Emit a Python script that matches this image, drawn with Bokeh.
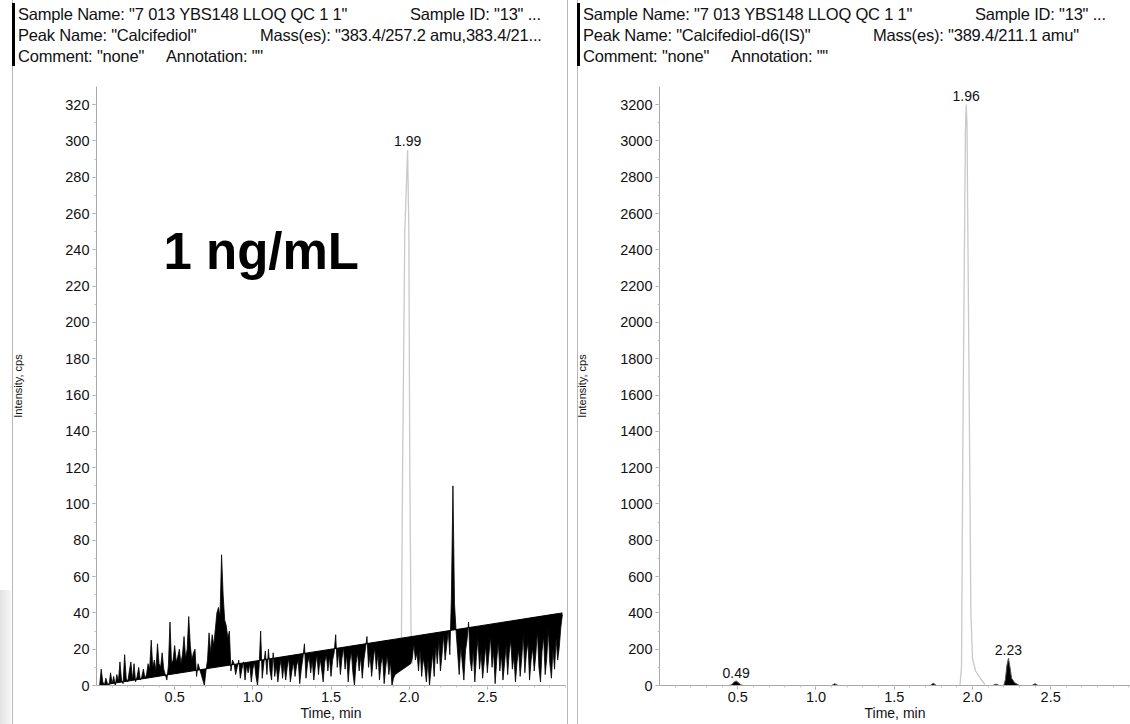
from bokeh.plotting import figure
from bokeh.layouts import row, column
from bokeh.models import FixedTicker, PrintfTickFormatter, Label, Range1d, Div
from bokeh.embed import file_html
from bokeh.resources import INLINE
import numpy as np
import html

FONT = "Liberation Sans"

# ---------------- data: left panel (Calcifediol, 1 ng/mL) ----------------
# sampled every 0.01 min on two stretches (the 1.99 peak is drawn separately)
left_segments = [(0.02, 1.91), (2.01, 2.98)]
left_y = [
    0, 9, 2, 0, 4, 1, 0, 7,                       # 0.02-0.09
    1, 5, 0, 6, 2, 13, 3, 1, 17, 4,               # 0.10
    2, 8, 13, 3, 12, 2, 5, 10, 3, 5,              # 0.20
    9, 4, 6, 12, 9, 25, 10, 14, 8, 23,            # 0.30
    12, 10, 18, 9, 6, 3, 11, 35, 12, 14,          # 0.40
    22, 13, 16, 20, 12, 17, 27, 15, 20, 38,       # 0.50
    22, 14, 18, 20, 5, 12, 9, 6, 3, 0,            # 0.60
    8, 14, 29, 18, 28, 22, 31, 40, 43, 38,        # 0.70
    72, 50, 36, 33, 26, 30, 8, 14, 12, 6,         # 0.80
    10, 14, 4, 9, 13, 3, 11, 7, 12, 2,            # 0.90
    9, 13, 5, 0, 10, 30, 4, 12, 19, 6,            # 1.00
    20, 8, 3, 18, 5, 11, 2, 9, 14, 4,             # 1.10
    12, 3, 10, 15, 2, 8, 13, 5, 11, 14,           # 1.20
    1, 9, 15, 23, 4, 12, 16, 7, 14, 3,            # 1.30
    11, 17, 6, 15, 9, 2, 13, 17, 8, 16,           # 1.40
    5, 14, 18, 28, 10, 19, 6, 15, 21, 9,          # 1.50
    17, 2, 13, 19, 7, 0, 12, 18, 8, 16,           # 1.60
    4, 14, 20, 27, 10, 17, 5, 14, 21, 9,          # 1.70
    18, 3, 12, 16, 1, 10, 17, 6, 13, 0,           # 1.80
    4, 6,                                         # 1.90-1.91
    12, 15, 23, 14, 18, 8, 20, 5, 15,             # 2.01-2.09
    10, 2, 14, 0, 9, 18, 5, 22, 12, 25,           # 2.10
    8, 17, 28, 14, 22, 30, 17, 48, 110, 45,       # 2.20
    30, 18, 6, 22, 12, 3, 19, 25, 35, 14,         # 2.30
    8, 20, 2, 16, 26, 9, 18, 4, 13, 22,           # 2.40
    7, 17, 27, 10, 19, 1, 14, 24, 8, 17,          # 2.50
    3, 12, 22, 6, 18, 25, 9, 16, 2, 13,           # 2.60
    20, 5, 15, 28, 7, 18, 24, 3, 14, 21,          # 2.70
    8, 17, 30, 10, 2, 19, 27, 6, 15, 31,          # 2.80
    12, 4, 20, 9, 26, 14, 21, 32, 39,             # 2.90-2.98
]
left_base_t = [0.02, 2.98]
left_base_y = [0.0, 40.0]
left_peak_t = [1.915, 1.95, 1.958, 1.972, 1.99, 1.998, 2.004, 2.012, 2.02]
left_peak_y = [6, 20, 120, 250, 295, 250, 120, 30, 12]
left_rt = "1.99"
left_rt_x, left_rt_y = 1.99, 295

# ---------------- data: right panel (Calcifediol-d6 IS) ----------------
right_t = [0.02, 0.44, 0.46, 0.475, 0.49, 0.505, 0.52, 0.54, 1.10, 1.12, 1.14, 1.73, 1.75,
           1.77, 2.13, 2.15, 2.17, 2.20, 2.21, 2.22, 2.23, 2.24, 2.25, 2.27, 2.29, 2.30,
           2.38, 2.40, 2.42, 3.0]
right_y = [0, 0, 3, 18, 25, 15, 3, 0, 0, 10, 0, 0, 12,
           0, 0, 8, 0, 0, 30, 110, 150, 100, 40, 15, 5, 0,
           0, 10, 0, 0]
right_peak_t = [1.92, 1.93, 1.94, 1.955, 1.96, 1.965, 1.98, 1.99, 2.0, 2.02, 2.05, 2.08]
right_peak_y = [0, 100, 1500, 3050, 3200, 3100, 1500, 400, 150, 80, 40, 5]
right_labels = ["0.49", "2.23"]
right_label_x = [0.49, 2.23]
right_label_y = [25, 150]
right_rt = "1.96"
right_rt_x, right_rt_y = 1.96, 3200

x_major = [0.5, 1.0, 1.5, 2.0, 2.5]
x_minor = [round(0.1 * i, 1) for i in range(1, 31)]

left_header = [
    'Sample Name: "7 013 YBS148 LLOQ QC 1 1"', 'Sample ID: "13" ...',
    'Peak Name: "Calcifediol"', 'Mass(es): "383.4/257.2 amu,383.4/21...',
    'Comment: "none"', 'Annotation: ""',
]
right_header = [
    'Sample Name: "7 013 YBS148 LLOQ QC 1 1"', 'Sample ID: "13" ...',
    'Peak Name: "Calcifediol-d6(IS)"', 'Mass(es): "389.4/211.1 amu"',
    'Comment: "none"', 'Annotation: ""',
]
# (x, baseline) of each header text, px inside its panel
left_header_pos = [(18, 20), (410, 20), (18, 41), (260, 41), (18, 62), (166, 62)]
right_header_pos = [(13, 20), (405, 20), (13, 41), (303, 41), (13, 62), (161, 62)]

HDR_H = 72
FIG_H = 724 - HDR_H


def header_div(width, bar_x, texts, pos):
    parts = [f'<svg xmlns="http://www.w3.org/2000/svg" width="{width}" height="{HDR_H}" '
             f'style="display:block">',
             f'<rect x="{bar_x}" y="3" width="3" height="63" fill="#000"/>']
    for t, (x, y) in zip(texts, pos):
        parts.append(f'<text x="{x}" y="{y}" font-family="{FONT}" font-size="16.5px" '
                     f'letter-spacing="-0.2px" fill="#111">{html.escape(t, quote=False)}</text>')
    parts.append('</svg>')
    return Div(text="".join(parts), width=width, height=HDR_H, margin=0)


def make_panel(width, mbl, mbr, xmax, ymax, ystep, label_standoff):
    p = figure(width=width, height=FIG_H, output_backend="svg", toolbar_location=None,
               x_range=Range1d(0, xmax), y_range=Range1d(0, ymax),
               min_border_left=mbl, min_border_right=mbr, min_border_top=86 - HDR_H,
               min_border_bottom=FIG_H - (685 - HDR_H), margin=0)
    p.outline_line_color = None
    p.xgrid.visible = False
    p.ygrid.visible = False
    p.background_fill_color = "white"
    p.border_fill_color = None
    p.xaxis.ticker = FixedTicker(ticks=x_major, minor_ticks=x_minor)
    p.xaxis.formatter = PrintfTickFormatter(format="%.1f")
    p.yaxis.ticker = FixedTicker(ticks=list(range(0, int(ymax), ystep)),
                                 minor_ticks=list(range(0, int(ymax), ystep // 2)))
    for ax in (p.xaxis[0], p.yaxis[0]):
        ax.axis_line_color = "#a8a8a8"
        ax.major_tick_line_color = "#a8a8a8"
        ax.minor_tick_line_color = "#c4c4c4"
        ax.major_tick_out = 4
        ax.major_tick_in = 0
        ax.minor_tick_out = 2
        ax.minor_tick_in = 0
        ax.major_label_text_font = FONT
        ax.major_label_text_font_size = "14.5px"
        ax.major_label_text_color = "#111111"
    p.xaxis.major_label_standoff = 2
    p.yaxis.major_label_standoff = 3
    p.yaxis.axis_label = "Intensity, cps"
    p.yaxis.axis_label_text_font = FONT
    p.yaxis.axis_label_text_font_size = "11px"
    p.yaxis.axis_label_text_font_style = "normal"
    p.yaxis.axis_label_text_color = "#111111"
    p.yaxis.axis_label_standoff = label_standoff
    p.xaxis.axis_label = "Time, min"
    p.xaxis.axis_label_text_font = FONT
    p.xaxis.axis_label_text_font_size = "14px"
    p.xaxis.axis_label_text_font_style = "normal"
    p.xaxis.axis_label_text_color = "#111111"
    p.xaxis.axis_label_standoff = 0
    return p


# ---- left panel
pl = make_panel(570, 96, 5, 3.0, 330, 20, 38)
lt = np.concatenate([np.round(np.arange(a, b + 0.005, 0.01), 2) for a, b in left_segments])
ly = np.array(left_y, dtype=float)
assert len(lt) == len(ly), (len(lt), len(ly))
lb = np.interp(lt, left_base_t, left_base_y)
pl.line(left_peak_t, left_peak_y, color="#c9c9c9", line_width=1.3)
pl.varea(x=lt, y1=ly, y2=lb, fill_color="black")
pl.line(lt, ly, color="black", line_width=0.8)
pl.line(left_base_t, left_base_y, color="black", line_width=1)
pl.add_layout(Label(x=left_rt_x, y=left_rt_y, text=left_rt, text_align="center",
                    text_baseline="bottom", y_offset=4, text_font=FONT, text_font_size="14px",
                    text_color="#111111"))
pl.add_layout(Label(x=67, y=434, x_units="screen", y_units="screen", text="1 ng/mL",
                    text_baseline="alphabetic", text_font=FONT, text_font_size="51px",
                    text_font_style="bold", text_color="black"))

# ---- right panel
pr = make_panel(560, 89, 0, 3.01, 3300, 200, 29)
pr.line(right_peak_t, right_peak_y, color="#c9c9c9", line_width=1.3)
rt = np.array(right_t)
pr.varea(x=rt, y1=np.zeros(len(rt)), y2=np.array(right_y, dtype=float), fill_color="black")
pr.line(rt, right_y, color="#555555", line_width=1)
pr.add_layout(Label(x=right_rt_x, y=right_rt_y, text=right_rt, text_align="center",
                    text_baseline="bottom", y_offset=4, text_font=FONT, text_font_size="14px",
                    text_color="#111111"))
for txt, xx, yy in zip(right_labels, right_label_x, right_label_y):
    pr.add_layout(Label(x=xx, y=yy, text=txt, text_align="center", text_baseline="bottom",
                        y_offset=3, text_font=FONT, text_font_size="14px", text_color="#111111"))

hl = header_div(570, 12, left_header, left_header_pos)
hr = header_div(560, 7, right_header, right_header_pos)

bg_layers = [f"linear-gradient(#b8b8b8,#b8b8b8) {x}px 0/1px 100% no-repeat" for x in (12, 567, 577)]
bg_layers.append("linear-gradient(to right, #e2e2e2, #f7f7f7) 0 590px/11px 134px no-repeat")
layout = row(column(hl, pl, margin=0), column(hr, pr, margin=0),
             styles={"background": ", ".join(bg_layers)}, margin=0)
open("out.html", "w").write(file_html(layout, INLINE))
